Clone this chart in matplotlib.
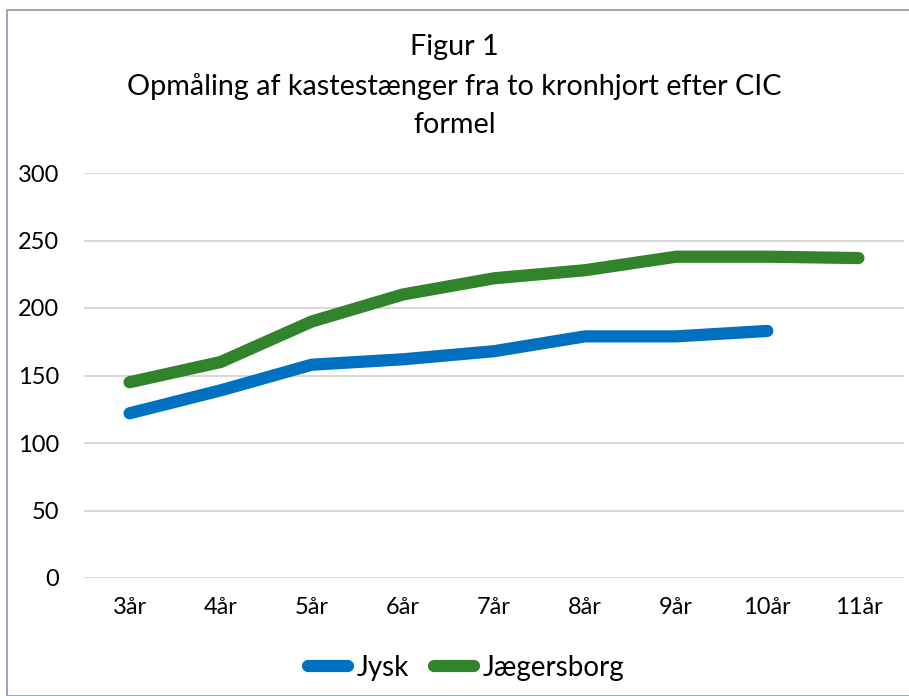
import matplotlib
matplotlib.use('Agg')
import matplotlib.pyplot as plt
from matplotlib.patches import Rectangle

plt.rcParams['font.family'] = ['Lato', 'DejaVu Sans']

categories = ['3år', '4år', '5år', '6år', '7år', '8år', '9år', '10år', '11år']
jysk = [122, 139, 158, 162, 168, 179, 179, 183]
jaegersborg = [145, 160, 190, 210, 222, 228, 238, 238, 237]

fig = plt.figure(figsize=(9.09, 6.96), dpi=100)
W, H = 909, 696

# chart frame
fig.patches.append(Rectangle((7 / W, 0), 1, 1 - 10 / H, transform=fig.transFigure,
                             fill=False, edgecolor='#8497b0', linewidth=1.2))

ax = fig.add_axes([84 / W, 1 - 578 / H, (904 - 84) / W, (578 - 173) / H])
x = list(range(len(categories)))
ax.plot(x[:len(jysk)], jysk, color='#0070C0', lw=8.8, solid_capstyle='round',
        solid_joinstyle='round', label='Jysk')
ax.plot(x, jaegersborg, color='#31832C', lw=8.8, solid_capstyle='round',
        solid_joinstyle='round', label='Jægersborg')

ax.set_xlim(-0.5, len(categories) - 0.5)
ax.set_ylim(0, 300)
ax.set_yticks(range(0, 301, 50))
ax.set_xticks(x)
ax.set_xticklabels(categories)
ax.grid(axis='y', color='#d9d9d9', lw=1.5)
ax.set_axisbelow(True)
for s in ax.spines.values():
    s.set_visible(False)
ax.tick_params(axis='both', length=0, labelsize=17, colors='black')
ax.tick_params(axis='y', pad=18)
ax.tick_params(axis='x', pad=14)

title_kw = dict(ha='center', va='center', fontsize=20.7)
fig.text(0.5, 1 - 47 / H, 'Figur 1', **title_kw)
fig.text(0.5, 1 - 87 / H, 'Opmåling af kastestænger fra to kronhjort efter CIC', **title_kw)
fig.text(0.5, 1 - 125 / H, 'formel', **title_kw)

leg = fig.legend(loc='center', bbox_to_anchor=(466 / W, 1 - 668 / H), ncol=2,
                 frameon=False, fontsize=20, handlelength=1.45, handletextpad=0.3,
                 columnspacing=0.9)
for line in leg.get_lines():
    line.set_linewidth(8.8)
    line.set_solid_capstyle('round')

fig.savefig('out.png', dpi=100)
